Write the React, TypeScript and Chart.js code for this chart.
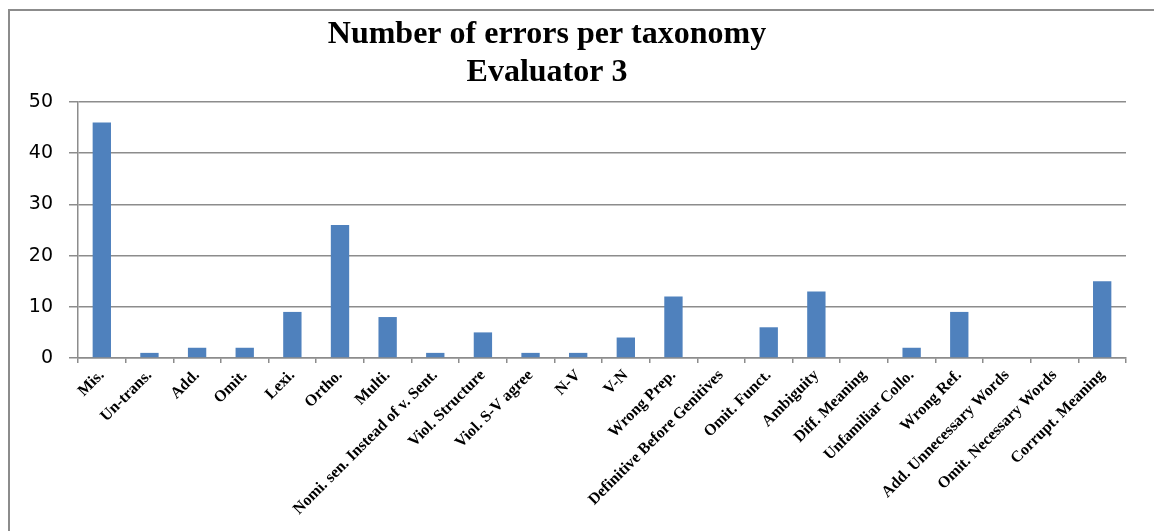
import { useEffect, useRef } from "react";
import { Chart, registerables } from "chart.js";

Chart.register(...registerables);

const categories = [
  "Mis.",
  "Un-trans.",
  "Add.",
  "Omit.",
  "Lexi.",
  "Ortho.",
  "Multi.",
  "Nomi. sen. Instead of v. Sent.",
  "Viol. Structure",
  "Viol. S-V agree",
  "N-V",
  "V-N",
  "Wrong Prep.",
  "Definitive Before Genitives",
  "Omit. Funct.",
  "Ambiguity",
  "Diff. Meaning",
  "Unfamiliar Collo.",
  "Wrong Ref.",
  "Add. Unnecessary Words",
  "Omit. Necessary Words",
  "Corrupt. Meaning",
];

const errorCounts = [46, 1, 2, 2, 9, 26, 8, 1, 5, 1, 1, 4, 12, 0, 6, 13, 0, 2, 9, 0, 0, 15];

const yTicks = [0, 10, 20, 30, 40, 50];

const titleLines = ["Number of errors per taxonomy", "Evaluator 3"];

const GRID_GREY = "#8c8c8c";
const BAR_BLUE = "#4f81bd";

// Frame lines along the top and left edges, plus the two-line heading.
const framePlugin = {
  id: "frameAndHeading",
  beforeDraw(chart: Chart) {
    const ctx = chart.ctx;
    ctx.save();
    ctx.fillStyle = "#ffffff";
    ctx.fillRect(0, 0, chart.width, chart.height);
    ctx.fillStyle = GRID_GREY;
    ctx.fillRect(8, 9, 2, chart.height - 9);
    ctx.fillRect(8, 9, chart.width - 8, 2);
    ctx.restore();
  },
  afterDraw(chart: Chart) {
    const ctx = chart.ctx;
    ctx.save();
    ctx.fillStyle = "#000000";
    ctx.font = 'bold 32px "Liberation Serif", "Times New Roman", serif';
    ctx.textAlign = "center";
    ctx.textBaseline = "alphabetic";
    const cx = 547;
    ctx.fillText(titleLines[0], cx, 43);
    ctx.fillText(titleLines[1], cx, 81);
    ctx.restore();
  },
};

export default function App() {
  const canvasRef = useRef<HTMLCanvasElement | null>(null);

  useEffect(() => {
    const canvas = canvasRef.current;
    if (!canvas) return;
    const chart = new Chart(canvas, {
      type: "bar",
      data: {
        labels: categories,
        datasets: [
          {
            label: "Errors",
            data: errorCounts,
            backgroundColor: BAR_BLUE,
            borderWidth: 0,
            categoryPercentage: 1,
            barPercentage: 0.385,
          },
        ],
      },
      options: {
        responsive: false,
        animation: false,
        devicePixelRatio: 1,
        layout: { padding: { top: 102, right: 28, left: 0, bottom: 0 } },
        plugins: {
          legend: { display: false },
          title: { display: false },
          tooltip: { enabled: false },
        },
        scales: {
          x: {
            type: "category",
            offset: true,
            grid: {
              offset: true,
              drawOnChartArea: false,
              drawTicks: true,
              tickLength: 5,
              color: GRID_GREY,
              lineWidth: 1.5,
            },
            border: { color: GRID_GREY, width: 1.5 },
            ticks: {
              autoSkip: false,
              maxRotation: 45,
              minRotation: 45,
              padding: 3,
              color: "#000000",
              font: { family: '"Liberation Serif", "Times New Roman", serif', weight: "bold", size: 16 },
            },
            afterFit: (scale: any) => {
              scale.height = 173;
            },
          },
          y: {
            min: 0,
            max: 50,
            afterBuildTicks: (scale: any) => {
              scale.ticks = yTicks.map((v) => ({ value: v }));
            },
            grid: {
              color: GRID_GREY,
              lineWidth: 1.5,
              drawTicks: true,
              tickLength: 9,
            },
            border: { color: GRID_GREY, width: 1.5 },
            ticks: {
              padding: 16,
              color: "#000000",
              font: { family: '"DejaVu Sans", sans-serif', size: 19 },
            },
            afterFit: (scale: any) => {
              scale.width = 78;
            },
          },
        },
      },
      plugins: [framePlugin],
    });
    return () => chart.destroy();
  }, []);

  return (
    <canvas
      ref={canvasRef}
      width={1154}
      height={531}
      style={{ position: "fixed", left: 0, top: 0, width: 1154, height: 531 }}
    />
  );
}
